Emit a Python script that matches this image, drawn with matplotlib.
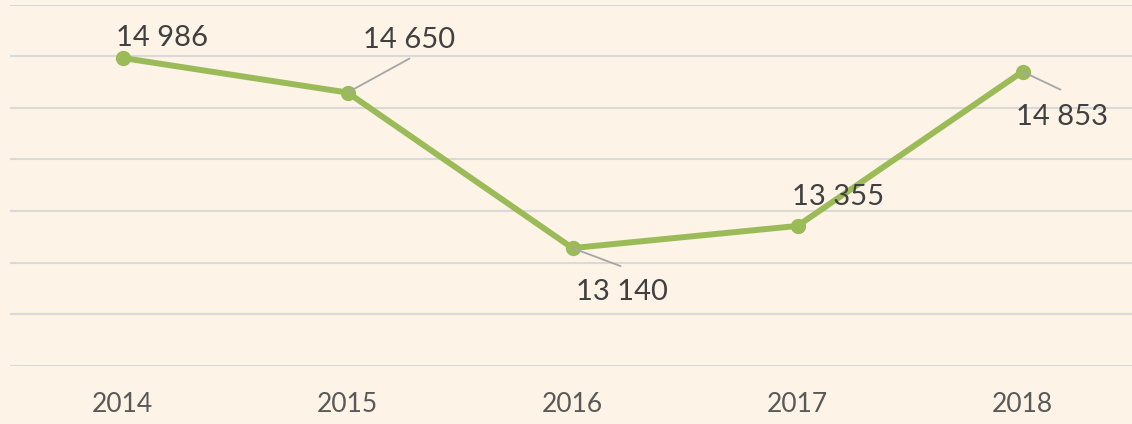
import numpy as np
from matplotlib import pyplot as plt

# chart data
years = ['2014', '2015', '2016', '2017', '2018']
values = [14986, 14650, 13140, 13355, 14853]
labels = ['14 986', '14 650', '13 140', '13 355', '14 853']

# label offsets (pixels from point) and leader line ends
label_offsets = [(40, 12), (62, 45), (49, -52), (41, 21), (39, -53)]
leader_ends = [None, (62, 34), (48, -18), None, (38, -18)]

bg = '#FDF3E6'
green = '#9BBB59'

plt.rcParams['font.family'] = ['Lato', 'DejaVu Sans']

fig = plt.figure(figsize=(11.32, 4.24), dpi=100)
fig.patch.set_facecolor(bg)
ax = fig.add_axes([10 / 1132, 58.5 / 424, 1125 / 1132, 360.5 / 424])
ax.set_facecolor(bg)

x = np.arange(len(years))
ax.plot(x, values, color=green, lw=4.3, marker='o', markersize=10,
        solid_capstyle='round', zorder=3)

for i in range(len(years)):
    dx, dy = label_offsets[i]
    ax.annotate(labels[i], xy=(x[i], values[i]), xytext=(dx, dy),
                textcoords='offset pixels', ha='center', va='baseline',
                fontsize=21, color='#404040', zorder=5)
    if leader_ends[i] is not None:
        ax.annotate('', xy=(x[i], values[i]), xytext=leader_ends[i],
                    textcoords='offset pixels',
                    arrowprops=dict(arrowstyle='-', color='#A6A6A6', lw=1.3,
                                    shrinkA=0, shrinkB=0), zorder=4)

ax.set_xlim(-0.5, len(years) - 0.5)
ax.set_ylim(12000, 15500)
ax.set_yticks(np.arange(12000, 15501, 500))
ax.set_xticks(x)
ax.set_xticklabels(years, fontsize=19, color='#595959')
ax.tick_params(axis='x', length=0, pad=19)
ax.tick_params(axis='y', length=0, labelleft=False)
ax.grid(axis='y', color='#D9D9D9', lw=1.5, zorder=1)
for s in ax.spines.values():
    s.set_visible(False)

plt.savefig('out.png', dpi=100, facecolor=bg)
